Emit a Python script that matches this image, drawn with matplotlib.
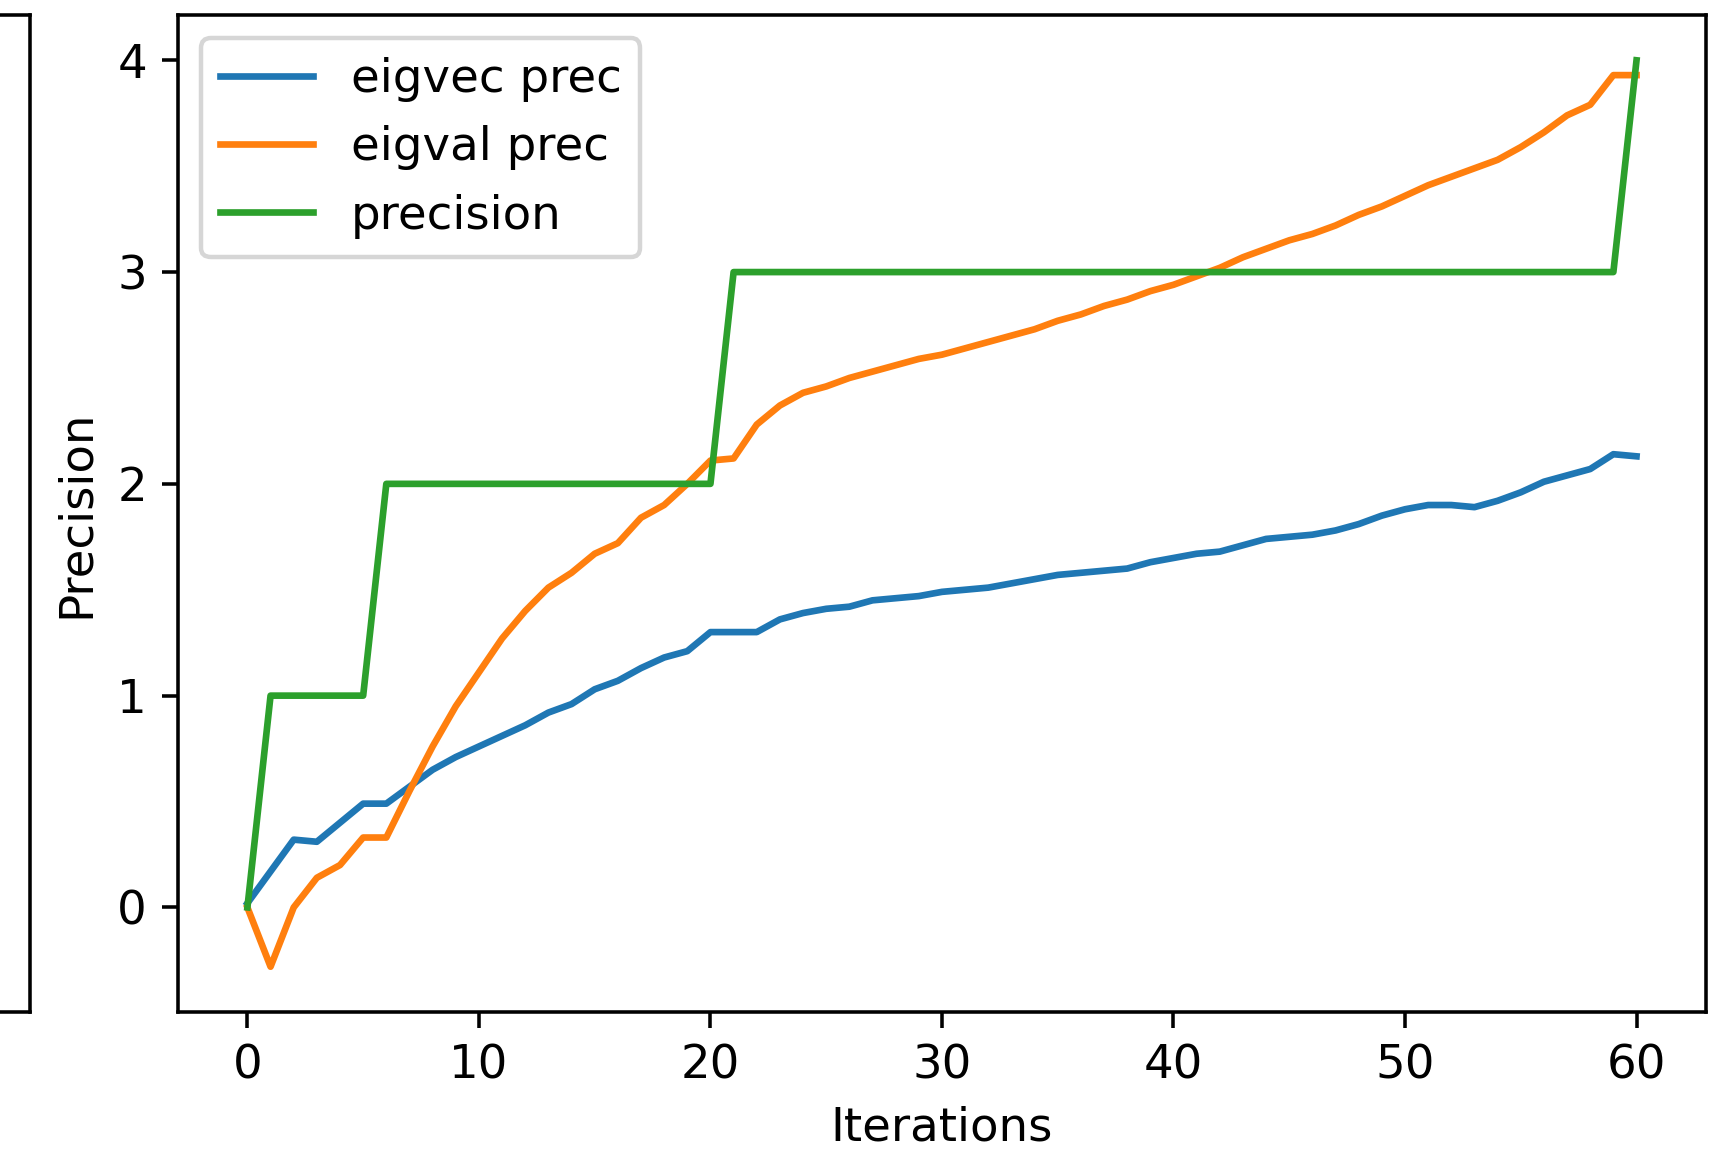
import numpy as np
from matplotlib import pyplot as plt

# precision per iteration, one value per step 0..60
iterations = np.arange(61)

eigvec_prec = [0.02, 0.17, 0.32, 0.31, 0.40, 0.49, 0.49, 0.57, 0.65, 0.71,
               0.76, 0.81, 0.86, 0.92, 0.96, 1.03, 1.07, 1.13, 1.18, 1.21,
               1.30, 1.30, 1.30, 1.36, 1.39, 1.41, 1.42, 1.45, 1.46, 1.47,
               1.49, 1.50, 1.51, 1.53, 1.55, 1.57, 1.58, 1.59, 1.60, 1.63,
               1.65, 1.67, 1.68, 1.71, 1.74, 1.75, 1.76, 1.78, 1.81, 1.85,
               1.88, 1.90, 1.90, 1.89, 1.92, 1.96, 2.01, 2.04, 2.07, 2.14,
               2.13]

eigval_prec = [0.00, -0.28, 0.00, 0.14, 0.20, 0.33, 0.33, 0.55, 0.76, 0.95,
               1.11, 1.27, 1.40, 1.51, 1.58, 1.67, 1.72, 1.84, 1.90, 2.00,
               2.11, 2.12, 2.28, 2.37, 2.43, 2.46, 2.50, 2.53, 2.56, 2.59,
               2.61, 2.64, 2.67, 2.70, 2.73, 2.77, 2.80, 2.84, 2.87, 2.91,
               2.94, 2.98, 3.02, 3.07, 3.11, 3.15, 3.18, 3.22, 3.27, 3.31,
               3.36, 3.41, 3.45, 3.49, 3.53, 3.59, 3.66, 3.74, 3.79, 3.93,
               3.93]

precision = [0] + [1] * 5 + [2] * 15 + [3] * 39 + [4]

plt.rcParams['font.size'] = 10.5

fig = plt.figure(figsize=(1726 / 320, 1152 / 320), dpi=320)

# neighbouring panel, mostly off the left edge
ax_left = fig.add_axes([-0.6, 0.1215, 0.6172, 0.8655])
ax_left.set_xticks([])
ax_left.set_yticks([])

ax = fig.add_axes([0.1031, 0.1215, 0.8853, 0.8655])
ax.plot(iterations, eigvec_prec, label='eigvec prec')
ax.plot(iterations, eigval_prec, label='eigval prec')
ax.plot(iterations, precision, label='precision')
ax.set_xlabel('Iterations')
ax.set_ylabel('Precision')
ax.legend(loc='upper left')

fig.savefig('out.png', dpi=320)
